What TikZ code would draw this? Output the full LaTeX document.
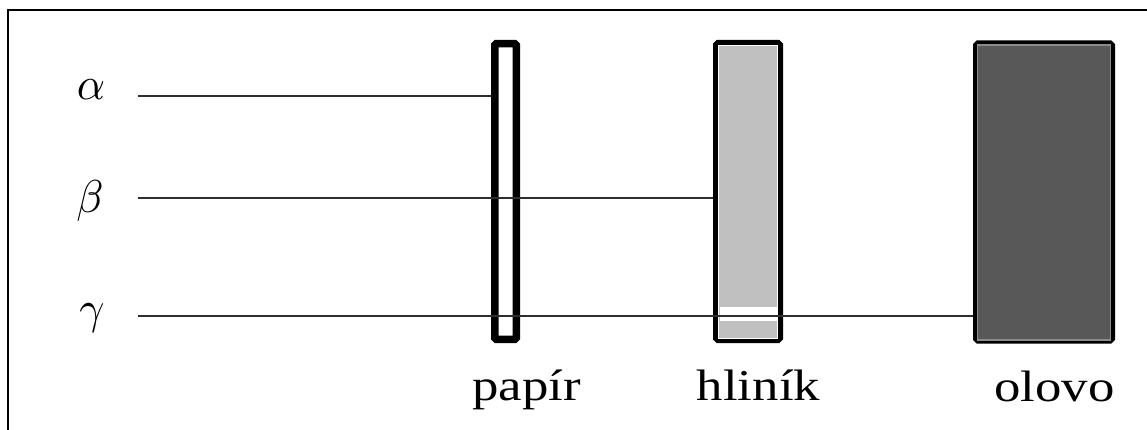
\documentclass[tikz,border=0pt]{standalone}
\usepackage{fontspec}
\setmainfont{Liberation Serif}
\usepackage{xcolor}
\usepackage{tikz}

\definecolor{alugray}{HTML}{C0C0C0}
\definecolor{leadgray}{HTML}{585858}
\definecolor{leadedge}{HTML}{8C8C8C}
\definecolor{raygray}{HTML}{2E2E2E}

\begin{document}
\begin{tikzpicture}[x=1pt,y=-1pt,
      slab/.style={rectangle,draw=black,line width=7.5pt,inner sep=0pt,
        rounded corners=1.5pt,minimum height=295.5pt},
      ray/.style={draw=raygray,line width=2.2pt},
      sym node/.style={anchor=base,inner sep=0pt,xscale=4.4,yscale=4.6},
      name node/.style={anchor=base,xscale=1.2,font=\fontsize{44}{50}\selectfont}]

    \useasboundingbox (0,0) rectangle (1147,430);
    \draw[line width=2pt] (8,430) -- (8,10) -- (1147,10);

    % the three absorbers
    \node[slab,fill=white,minimum width=21.5pt] (paper) at (505.5,191.5) {};
    \node[slab,fill=white,minimum width=62.5pt] (alu) at (748,191.5) {};
    \node[slab,fill=white,minimum width=134.5pt] (lead) at (1044,192) {};

    \filldraw[fill=alugray,draw=white,line width=1.2pt]
        ([shift={(5.5,5.5)}]alu.north west) rectangle ([shift={(-5.5,-4.5)}]alu.south east);
    \filldraw[fill=leadgray,draw=leadedge,line width=1.5pt]
        ([shift={(4.5,4.5)}]lead.north west) rectangle ([shift={(-4.5,-3.5)}]lead.south east);

    % radiation labels and rays
    \node[sym node] (alpha) at (91,100) {$\alpha$};
    \node[sym node] (beta) at (90,213) {$\beta$};
    \node[sym node] (gamma) at (92,323) {$\gamma$};

    \coordinate (a0) at (138,96);
    \coordinate (b0) at (138,198);
    \coordinate (g0) at (138,316);

    \fill[white] (alu.west |- 0,307) ++(6.5,0) rectangle ([xshift=-6.5]alu.east |- 0,321);

    \path[ray]
        (a0) edge (a0 -| paper.west)
        (b0) edge (b0 -| alu.west)
        (g0) edge (g0 -| lead.west)
    ;

    % names of the absorbers
    \node[name node] (paperlbl) at (526.5,400) {papír};
    \node[name node] (alulbl) at (758.5,400) {hliník};
    \node[name node] (leadlbl) at (1054.5,401) {olovo};
\end{tikzpicture}
\end{document}
